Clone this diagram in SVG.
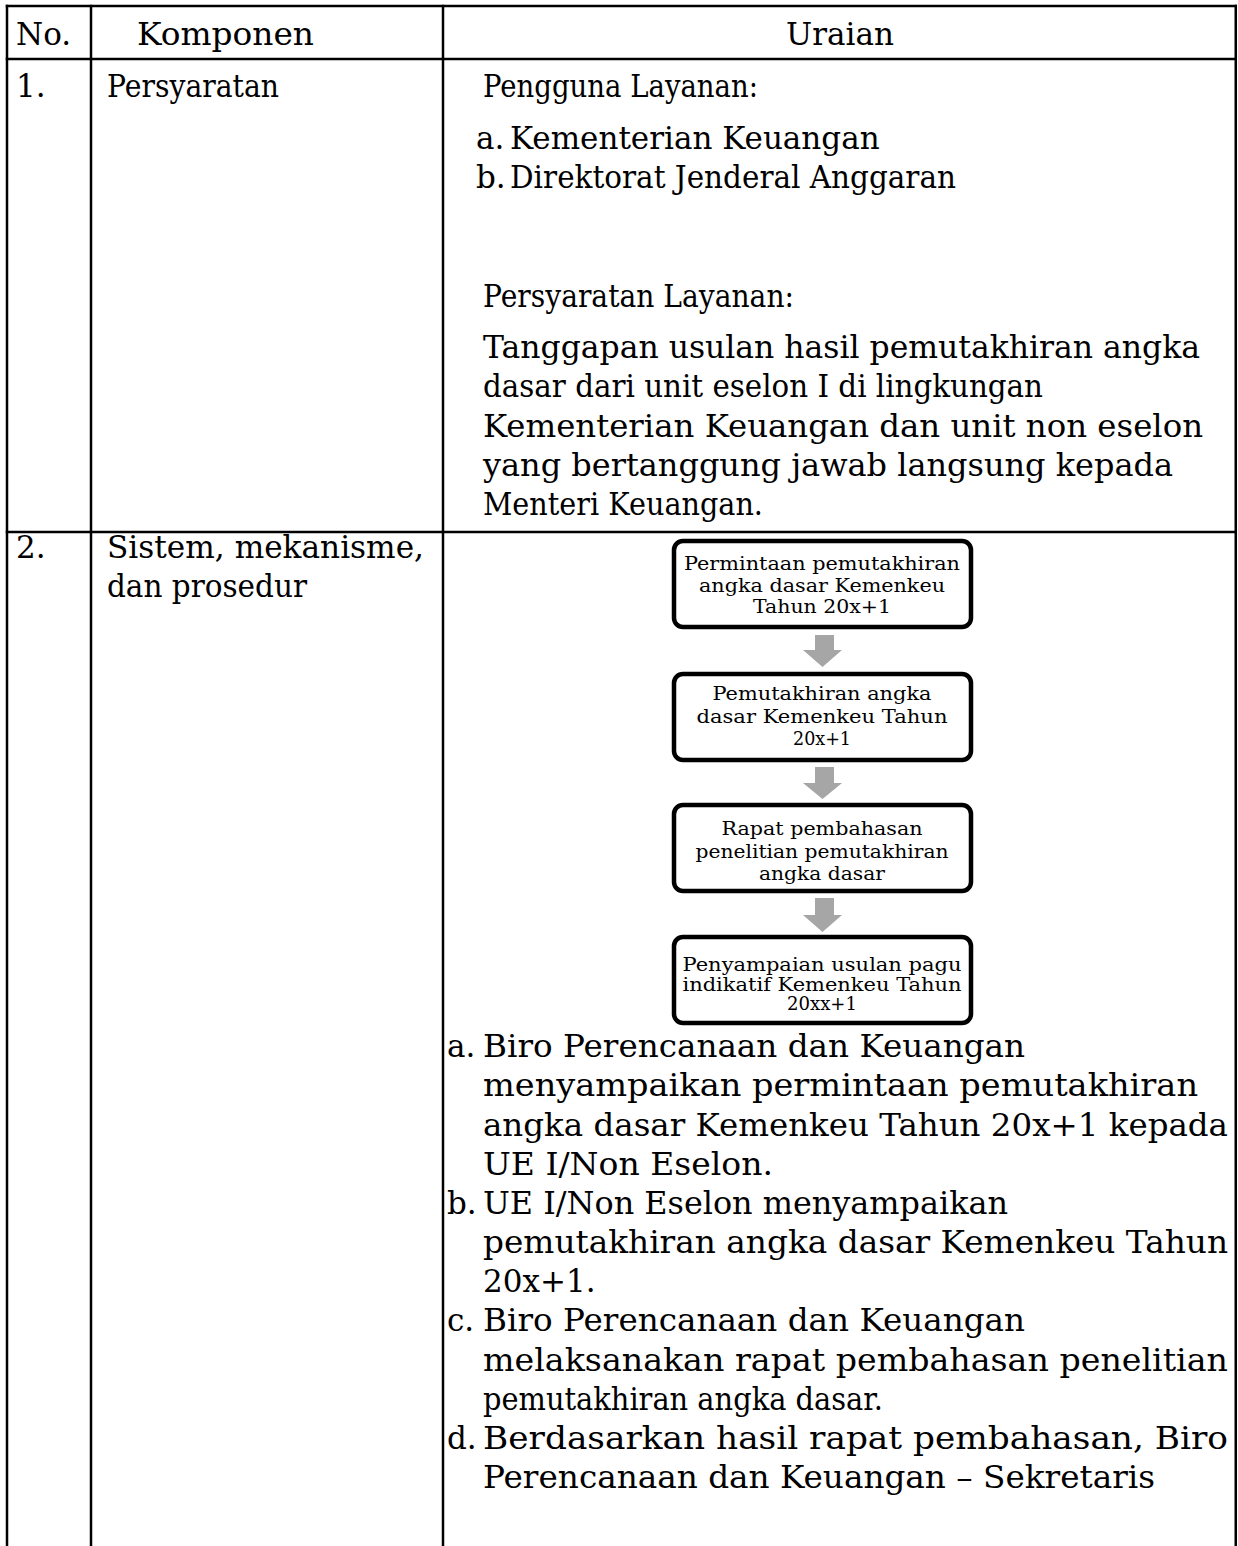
<svg xmlns="http://www.w3.org/2000/svg" width="1238" height="1546" viewBox="0 0 1238 1546">
<style>
.t{font-family:"DejaVu Serif","Liberation Serif",serif;font-size:31px;fill:#000}
.f{font-family:"DejaVu Serif","Liberation Serif",serif;font-size:19px;fill:#000;text-anchor:middle}
.grid{stroke:#000;stroke-width:2.5;fill:none}
.box{fill:#fff;stroke:#000;stroke-width:4.5}
.arr{fill:#a6a6a6}
</style>
<rect width="1238" height="1546" fill="#fff"/>
<g id="table">
<line class="grid" x1="5.75" y1="6" x2="1237" y2="6"/>
<line class="grid" x1="5.75" y1="59" x2="1237" y2="59"/>
<line class="grid" x1="5.75" y1="532" x2="1237" y2="532"/>
<line class="grid" x1="7" y1="4.75" x2="7" y2="1546"/>
<line class="grid" x1="91" y1="4.75" x2="91" y2="1546"/>
<line class="grid" x1="443" y1="4.75" x2="443" y2="1546"/>
<line class="grid" x1="1235.75" y1="4.75" x2="1235.75" y2="1546"/>
</g>
<g id="header">
<text class="t" x="16" y="45">No.</text>
<text class="t" x="137" y="45" textLength="177" lengthAdjust="spacingAndGlyphs">Komponen</text>
<text class="t" x="840" y="45" text-anchor="middle">Uraian</text>
</g>
<g id="row1">
<text class="t" x="16" y="97">1.</text>
<text class="t" x="107" y="97" textLength="172" lengthAdjust="spacingAndGlyphs">Persyaratan</text>
<text class="t" x="483" y="97" textLength="275" lengthAdjust="spacingAndGlyphs">Pengguna Layanan:</text>
<text class="t" x="476" y="149">a.</text>
<text class="t" x="510" y="149">Kementerian Keuangan</text>
<text class="t" x="476" y="188">b.</text>
<text class="t" x="510" y="188" textLength="446" lengthAdjust="spacingAndGlyphs">Direktorat Jenderal Anggaran</text>
<text class="t" x="483" y="307" textLength="311" lengthAdjust="spacingAndGlyphs">Persyaratan Layanan:</text>
<text class="t" x="483" y="358" textLength="717" lengthAdjust="spacingAndGlyphs">Tanggapan usulan hasil pemutakhiran angka</text>
<text class="t" x="483" y="397" textLength="560" lengthAdjust="spacingAndGlyphs">dasar dari unit eselon I di lingkungan</text>
<text class="t" x="483" y="437" textLength="720" lengthAdjust="spacingAndGlyphs">Kementerian Keuangan dan unit non eselon</text>
<text class="t" x="483" y="476" textLength="690" lengthAdjust="spacingAndGlyphs">yang bertanggung jawab langsung kepada</text>
<text class="t" x="483" y="515" textLength="280" lengthAdjust="spacingAndGlyphs">Menteri Keuangan.</text>
</g>
<g id="row2">
<text class="t" x="16" y="558">2.</text>
<text class="t" x="107" y="558" textLength="317" lengthAdjust="spacingAndGlyphs">Sistem,  mekanisme,</text>
<text class="t" x="107" y="597" textLength="200" lengthAdjust="spacingAndGlyphs">dan prosedur</text>
<text class="t" x="447" y="1057">a.</text>
<text class="t" x="483" y="1057" textLength="542" lengthAdjust="spacingAndGlyphs">Biro Perencanaan dan Keuangan</text>
<text class="t" x="483" y="1096" textLength="715" lengthAdjust="spacingAndGlyphs">menyampaikan permintaan pemutakhiran</text>
<text class="t" x="483" y="1136" textLength="745" lengthAdjust="spacingAndGlyphs">angka dasar Kemenkeu Tahun 20x+1 kepada</text>
<text class="t" x="483" y="1175" textLength="290" lengthAdjust="spacingAndGlyphs">UE I/Non Eselon.</text>
<text class="t" x="447" y="1214">b.</text>
<text class="t" x="483" y="1214" textLength="525" lengthAdjust="spacingAndGlyphs">UE I/Non Eselon menyampaikan</text>
<text class="t" x="483" y="1253" textLength="745" lengthAdjust="spacingAndGlyphs">pemutakhiran angka dasar Kemenkeu Tahun</text>
<text class="t" x="483" y="1292">20x+1.</text>
<text class="t" x="447" y="1331">c.</text>
<text class="t" x="483" y="1331" textLength="542" lengthAdjust="spacingAndGlyphs">Biro Perencanaan dan Keuangan</text>
<text class="t" x="483" y="1371" textLength="745" lengthAdjust="spacingAndGlyphs">melaksanakan rapat pembahasan penelitian</text>
<text class="t" x="483" y="1410" textLength="400" lengthAdjust="spacingAndGlyphs">pemutakhiran angka dasar.</text>
<text class="t" x="447" y="1449">d.</text>
<text class="t" x="483" y="1449" textLength="745" lengthAdjust="spacingAndGlyphs">Berdasarkan hasil rapat pembahasan, Biro</text>
<text class="t" x="483" y="1488" textLength="672" lengthAdjust="spacingAndGlyphs">Perencanaan dan Keuangan – Sekretaris</text>
</g>
<g id="connectors">
<polygon class="arr" points="815,635 834,635 834,650 842,650 822.5,667 803,650 815,650"/>
<polygon class="arr" points="815,767 834,767 834,783 842,783 822.5,799 803,783 815,783"/>
<polygon class="arr" points="815,898 834,898 834,915 842,915 822.5,932 803,915 815,915"/>
</g>
<g id="node1">
<rect class="box" x="674" y="541" width="297" height="86" rx="9"/>
<text class="f" x="822" y="570" textLength="276" lengthAdjust="spacingAndGlyphs">Permintaan pemutakhiran</text>
<text class="f" x="822" y="592" textLength="246" lengthAdjust="spacingAndGlyphs">angka dasar Kemenkeu</text>
<text class="f" x="822" y="613" textLength="138" lengthAdjust="spacingAndGlyphs">Tahun 20x+1</text>
</g>
<g id="node2">
<rect class="box" x="674" y="674" width="297" height="86" rx="9"/>
<text class="f" x="822" y="700" textLength="219" lengthAdjust="spacingAndGlyphs">Pemutakhiran angka</text>
<text class="f" x="822" y="723" textLength="251" lengthAdjust="spacingAndGlyphs">dasar Kemenkeu Tahun</text>
<text class="f" x="822" y="745" textLength="58" lengthAdjust="spacingAndGlyphs">20x+1</text>
</g>
<g id="node3">
<rect class="box" x="674" y="805" width="297" height="86" rx="9"/>
<text class="f" x="822" y="835" textLength="201" lengthAdjust="spacingAndGlyphs">Rapat pembahasan</text>
<text class="f" x="822" y="858" textLength="253" lengthAdjust="spacingAndGlyphs">penelitian pemutakhiran</text>
<text class="f" x="822" y="880" textLength="126" lengthAdjust="spacingAndGlyphs">angka dasar</text>
</g>
<g id="node4">
<rect class="box" x="674" y="937" width="297" height="86" rx="9"/>
<text class="f" x="822" y="971" textLength="279" lengthAdjust="spacingAndGlyphs">Penyampaian usulan pagu</text>
<text class="f" x="822" y="991" textLength="279" lengthAdjust="spacingAndGlyphs">indikatif Kemenkeu Tahun</text>
<text class="f" x="822" y="1010" textLength="70" lengthAdjust="spacingAndGlyphs">20xx+1</text>
</g>
</svg>
